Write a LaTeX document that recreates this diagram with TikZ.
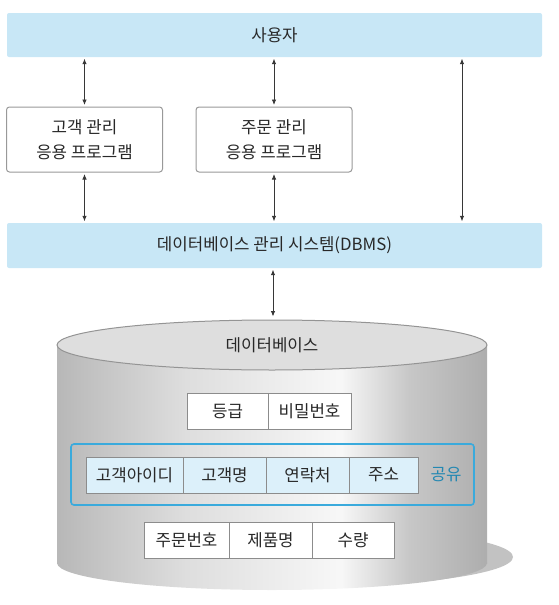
\documentclass[tikz,border=0pt]{standalone}
\usepackage{fontspec}
\setmainfont{Noto Sans CJK KR}
\usepackage{tikz}
\usetikzlibrary{arrows.meta}
\definecolor{barblue}{RGB}{200,231,246}
\definecolor{cellblue}{RGB}{220,240,250}
\definecolor{frameblue}{RGB}{58,170,220}
\definecolor{sharetext}{RGB}{36,136,178}
\definecolor{txtgray}{RGB}{40,40,40}
\definecolor{arrowgray}{RGB}{55,55,55}
\pgfdeclarehorizontalshading{cylshade}{100bp}{color(0bp)=(black!28); color(25bp)=(black!28);
  color(40bp)=(black!13); color(58bp)=(black!3); color(66bp)=(black!22); color(75bp)=(black!32); color(100bp)=(black!32)}

\begin{document}
\begin{tikzpicture}[x=1pt,y=-1pt,
  every node/.style={font=\fontsize{16.8}{25}\selectfont, text=txtgray},
  bar/.style={fill=barblue, rounded corners=2pt, minimum width=535pt, inner sep=0pt},
  appbox/.style={draw=black!40, line width=1pt, fill=white, rounded corners=3pt,
    minimum width=156pt, minimum height=65pt, align=center, inner sep=0pt},
  cell/.style={draw=black!45, line width=0.8pt, fill=white, minimum height=36pt, inner sep=0pt},
  sharedcell/.style={cell, fill=cellblue},
  link/.style={arrowgray, line width=0.8pt, {Latex[length=5.5pt,width=4.5pt]}-{Latex[length=5.5pt,width=4.5pt]},
    shorten <=1.5pt, shorten >=1.5pt}]
\useasboundingbox (0,0) rectangle (558,605);

\node[bar, minimum height=44pt] (user) at (274.5,35) {사용자};
\node[appbox] (custapp) at (84.5,139.5) {고객 관리\\응용 프로그램};
\node[appbox] (orderapp) at (274,139.5) {주문 관리\\응용 프로그램};
\node[bar, minimum height=45pt] (dbms) at (274.5,245.5) {데이터베이스 관리 시스템(DBMS)};
\coordinate (rside) at (462,0);
\coordinate (dbtop) at (273,318);

\draw[link] (user.south -| custapp) -- (custapp.north);
\draw[link] (user.south -| orderapp) -- (orderapp.north);
\draw[link] (user.south -| rside) -- (dbms.north -| rside);
\draw[link] (custapp.south) -- (dbms.north -| custapp);
\draw[link] (orderapp.south) -- (dbms.north -| orderapp);
\draw[link] (dbms.south -| dbtop) -- (dbtop);

\fill[black!24] (300,557) ellipse[x radius=213, y radius=30];
\shade[shading=cylshade] (272,563) ellipse[x radius=215, y radius=27];
\shade[shading=cylshade] (57,345) rectangle (487,563);
\draw[black!42, line width=1pt, fill=black!13] (272,345) ellipse[x radius=215, y radius=25];
\node (dblabel) at (272,345) {데이터베이스};

\node[cell, minimum width=81pt] (grade) at (227.5,411) {등급};
\node[cell, minimum width=83pt] (pwd) at (309.5,411) {비밀번호};

\node[draw=frameblue, line width=1.6pt, rounded corners=3pt, minimum width=403pt, minimum height=61pt] (shared) at (272.5,474.5) {};
\node[sharedcell, minimum width=97pt] (custid) at (134.5,475) {고객아이디};
\node[sharedcell, minimum width=83pt] (custname) at (224.5,475) {고객명};
\node[sharedcell, minimum width=83pt] (phone) at (307.5,475) {연락처};
\node[sharedcell, minimum width=69pt] (addr) at (383.5,475) {주소};
\node[text=sharetext] (sharelabel) at (446,475) {공유};

\node[cell, minimum width=85pt] (orderno) at (186.5,540) {주문번호};
\node[cell, minimum width=83pt] (product) at (270.5,540) {제품명};
\node[cell, minimum width=82pt] (qty) at (353,540) {수량};
\end{tikzpicture}
\end{document}
